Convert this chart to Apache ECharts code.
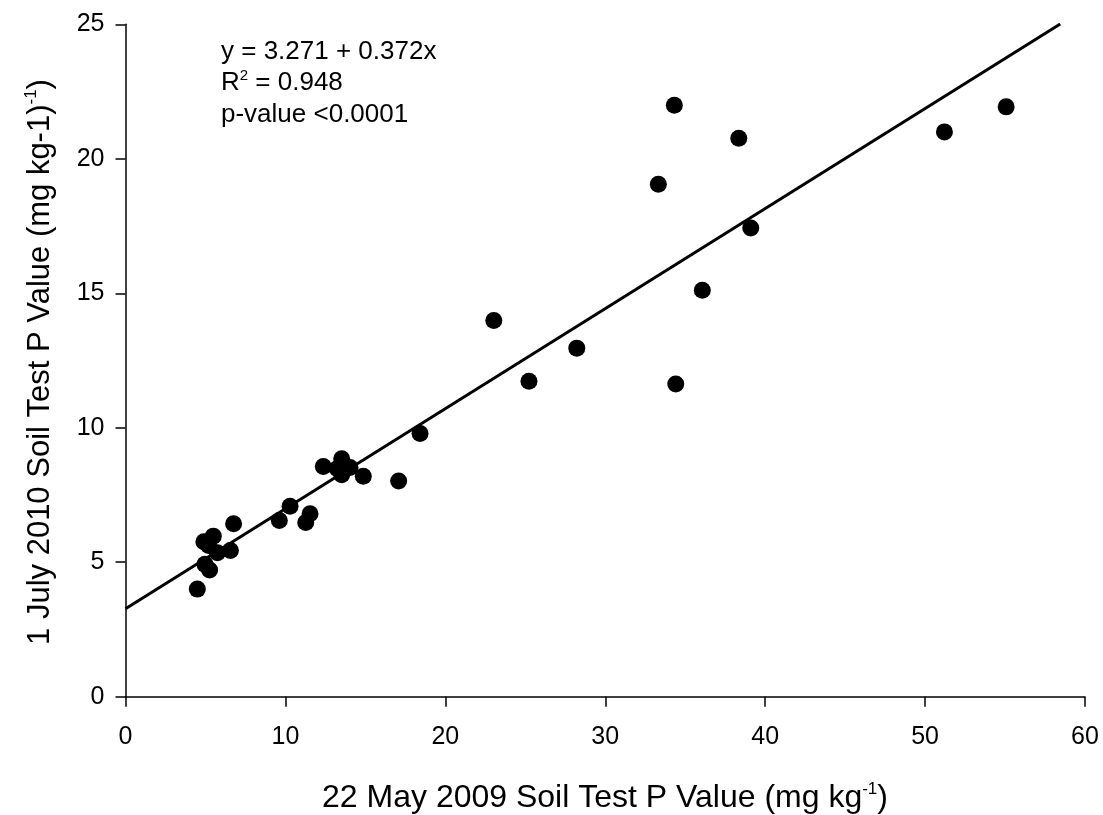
<!DOCTYPE html>
<html>
<head>
<meta charset="utf-8">
<script src="https://cdn.jsdelivr.net/npm/echarts@6/dist/echarts.min.js"></script>
<style>
html,body{margin:0;padding:0;background:#fff;}
#chart{width:1103px;height:815px;}
</style>
</head>
<body>
<div id="chart"></div>
<script>
// Observed data (x: 22 May 2009 STP, y: 1 July 2010 STP)
const may2009 = [4.49, 5.26, 4.97, 4.90, 5.49, 5.75, 5.20, 6.56, 6.76, 9.62, 10.29, 11.27, 11.54, 12.37, 13.52, 13.52, 13.25, 14.04, 14.87, 17.08, 18.42, 23.03, 25.23, 28.22, 34.41, 36.07, 34.32, 38.35, 33.32, 39.10, 51.21, 55.07];
const july2010 = [4.00, 4.71, 4.92, 5.76, 5.97, 5.35, 5.62, 5.44, 6.43, 6.55, 7.08, 6.48, 6.80, 8.56, 8.85, 8.25, 8.48, 8.52, 8.20, 8.02, 9.79, 13.99, 11.73, 12.96, 11.63, 15.11, 21.99, 20.76, 19.05, 17.43, 21.00, 21.93];
// Regression
const intercept = 3.271;
const slope = 0.372;
const lineStartX = 0;
const lineEndX = 58.45;
// Axis ticks
const xTicks = {min: 0, max: 60, interval: 10};
const yTicks = {min: 0, max: 25, interval: 5};

const points = may2009.map((x, i) => [x, july2010[i]]);
const fitLine = [lineStartX, lineEndX].map(x => [x, intercept + slope * x]);

const FONT = 'Liberation Sans, Arial, sans-serif';
const chart = echarts.init(document.getElementById('chart'));
chart.setOption({
  animation: false,
  backgroundColor: '#fff',
  grid: {left: 125.5, right: 18, top: 24.3, bottom: 118.3, containLabel: false},
  xAxis: {
    type: 'value', min: xTicks.min, max: xTicks.max, interval: xTicks.interval,
    axisLine: {show: true, lineStyle: {color: '#000', width: 1.5}},
    axisTick: {show: true, length: 10, inside: false, lineStyle: {color: '#000', width: 1.5}},
    axisLabel: {color: '#000', fontSize: 25, fontFamily: FONT, margin: 28},
    splitLine: {show: false}
  },
  yAxis: {
    type: 'value', min: yTicks.min, max: yTicks.max, interval: yTicks.interval,
    axisLine: {show: true, lineStyle: {color: '#000', width: 1.5}},
    axisTick: {show: true, length: 10, inside: false, lineStyle: {color: '#000', width: 1.5}},
    axisLabel: {color: '#000', fontSize: 25, fontFamily: FONT, margin: 21},
    splitLine: {show: false}
  },
  series: [
    {
      type: 'line', data: fitLine, symbol: 'none', silent: true,
      lineStyle: {color: '#000', width: 3}, z: 2
    },
    {
      type: 'scatter', data: points, symbol: 'circle', symbolSize: 17,
      itemStyle: {color: '#000', opacity: 1}, z: 3
    }
  ],
  graphic: [
    {
      type: 'text', x: 605, y: 798,
      style: {
        x: 0, y: 0, textAlign: 'center', textVerticalAlign: 'middle',
        text: '{n|22 May 2009 Soil Test P Value (mg kg}{s|-1}{n|)}',
        rich: {
          n: {fontSize: 32, fontFamily: FONT, fill: '#000', color: '#000'},
          s: {fontSize: 17, fontFamily: FONT, fill: '#000', color: '#000', padding: [0, 0, 18, 0]}
        }
      }
    },
    {
      type: 'text', x: 40, y: 362, rotation: Math.PI / 2,
      style: {
        x: 0, y: 0, textAlign: 'center', textVerticalAlign: 'middle',
        text: '{n|1 July 2010 Soil Test P Value (mg kg-1)}{s|-1}{n|)}',
        rich: {
          n: {fontSize: 31, fontFamily: FONT, fill: '#000', color: '#000'},
          s: {fontSize: 17, fontFamily: FONT, fill: '#000', color: '#000', padding: [0, 0, 18, 0]}
        }
      }
    },
    {
      type: 'text', x: 221, y: 52,
      style: {text: 'y = 3.271 + 0.372x', font: '26px ' + FONT, fill: '#000', textVerticalAlign: 'middle'}
    },
    {
      type: 'text', x: 221, y: 83,
      style: {
        text: '{n|R}{s|2}{n| = 0.948}', textVerticalAlign: 'middle',
        rich: {
          n: {fontSize: 26, fontFamily: FONT, fill: '#000', color: '#000'},
          s: {fontSize: 15, fontFamily: FONT, fill: '#000', color: '#000', padding: [0, 0, 15, 0]}
        }
      }
    },
    {
      type: 'text', x: 221, y: 115,
      style: {text: 'p-value <0.0001', font: '26px ' + FONT, fill: '#000', textVerticalAlign: 'middle'}
    }
  ]
});
</script>
</body>
</html>
